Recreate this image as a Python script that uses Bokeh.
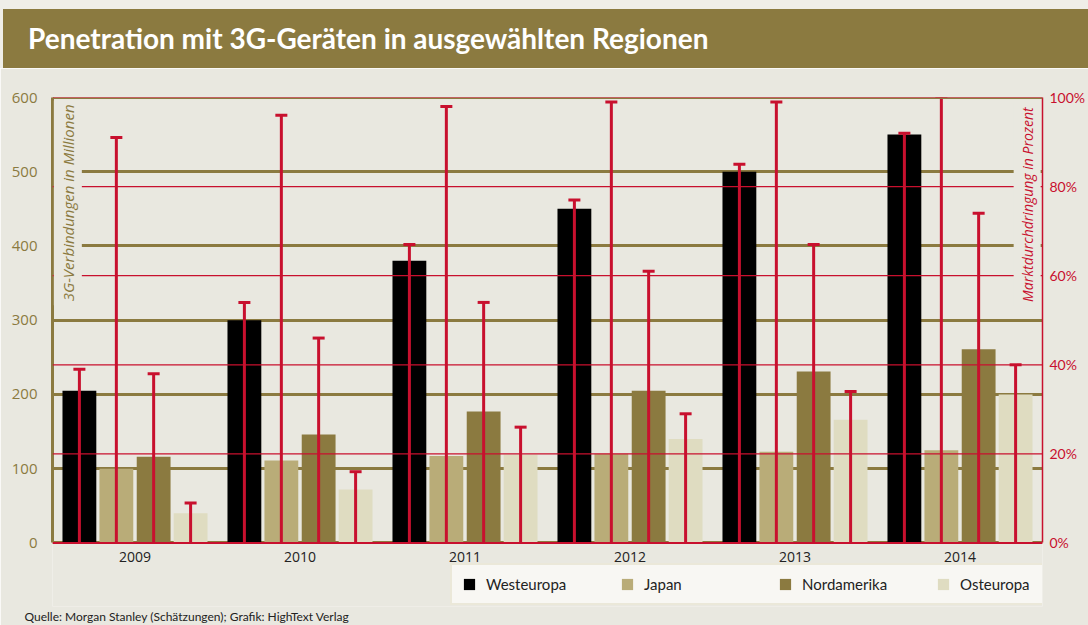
from bokeh.plotting import figure
from bokeh.models import (FactorRange, Range1d, LinearAxis, FixedTicker, Span, Label,
                          Legend, LegendItem, ColumnDataSource, Div, Title)
from bokeh.transform import dodge
from bokeh.layouts import column
from bokeh.core.properties import value
from bokeh.embed import file_html
from bokeh.resources import INLINE

# ---------------- data ----------------
years = ["2009", "2010", "2011", "2012", "2013", "2014"]
series = ["Westeuropa", "Japan", "Nordamerika", "Osteuropa"]
# 3G connections in millions (left axis)
westeuropa = [205, 300, 380, 450, 500, 550]
japan = [100, 111, 117, 120, 123, 125]
nordamerika = [116, 146, 177, 205, 231, 261]
osteuropa = [40, 72, 119, 140, 166, 200]
# market penetration in percent (right axis)
westeuropa_pct = [39, 54, 67, 77, 85, 92]
japan_pct = [91, 96, 98, 99, 99, 100]
nordamerika_pct = [38, 46, 54, 61, 67, 74]
osteuropa_pct = [9, 16, 26, 29, 34, 40]
left_ticks = [0, 100, 200, 300, 400, 500, 600]
right_ticks = [0, 20, 40, 60, 80, 100]
right_tick_labels = ["0%", "20%", "40%", "60%", "80%", "100%"]

title_text = "Penetration mit 3G-Geräten in ausgewählten Regionen"
source_text = "Quelle: Morgan Stanley (Schätzungen); Grafik: HighText Verlag"
left_label = "3G-Verbindungen in Millionen"
right_label = "Marktdurchdringung in Prozent"

# ---------------- styles ----------------
OLIVE = "#8b7a40"
JAPAN_C = "#b9ac78"
OST_C = "#dfdcc1"
RED = "#c8102e"
BG = "#e9e8e0"
COND = "Lato"
REG = "Open Sans"

colors = ["#000000", JAPAN_C, OLIVE, OST_C]
offsets = [-0.337, -0.113, 0.113, 0.337]
pcols = ["wp", "jp", "np_", "op"]
vcols = ["w", "j", "n", "o"]

# ---------------- title bar ----------------
t = Div(text=(f'<div style="width:1088px;height:68px;box-sizing:border-box;background:#efeee8;'
              f'padding-top:9px;padding-left:3px;">'
              f'<div style="height:59px;background:{OLIVE};color:#ffffff;font-family:Lato;'
              f'font-weight:bold;font-size:28px;line-height:58px;padding-left:25px;'
              f'white-space:nowrap;">{title_text}</div></div>'),
        width=1088, height=68, margin=0)

# ---------------- main chart ----------------
# frame: x 52..1048, y 97..606 (page px); value 0 sits at ~542.5
p = figure(width=1088, height=557, x_range=FactorRange(*years), y_range=Range1d(-85.6, 600),
           toolbar_location=None, output_backend="svg", x_axis_location=None,
           min_border_left=52, min_border_right=40, min_border_top=29, min_border_bottom=19,
           background_fill_color=BG, border_fill_color=BG, outline_line_color=None)
p.extra_y_ranges = {"pct": Range1d(-14.26, 100)}

# left axis
p.yaxis.ticker = FixedTicker(ticks=left_ticks)
p.yaxis.bounds = (0, 600)
p.yaxis.axis_line_color = OLIVE
p.yaxis.axis_line_width = 3
p.yaxis.major_tick_line_color = None
p.yaxis.minor_tick_line_color = None
p.yaxis.major_tick_out = 0
p.yaxis.major_tick_in = 0
p.yaxis.minor_tick_out = 0
p.yaxis.major_label_text_color = OLIVE
p.yaxis.major_label_text_font = REG
p.yaxis.major_label_text_font_size = "15px"
p.yaxis.major_label_standoff = 15

# right axis
ra = LinearAxis(y_range_name="pct", ticker=FixedTicker(ticks=right_ticks), bounds=(0, 100),
                major_label_overrides={k: v for k, v in zip(right_ticks, right_tick_labels)})
ra.axis_line_color = RED
ra.axis_line_width = 1.5
ra.major_tick_line_color = None
ra.minor_tick_line_color = None
ra.major_tick_out = 0
ra.major_tick_in = 0
ra.minor_tick_out = 0
ra.major_label_text_color = RED
ra.major_label_text_font = COND
ra.major_label_text_font_size = "14px"
ra.major_label_standoff = 7
p.add_layout(ra, "right")

# grid
p.xgrid.grid_line_color = None
p.ygrid.ticker = FixedTicker(ticks=left_ticks[:-1])
p.ygrid.grid_line_color = OLIVE
p.ygrid.grid_line_width = 3

src = ColumnDataSource(dict(year=years,
                            w=westeuropa, j=japan, n=nordamerika, o=osteuropa,
                            wp=westeuropa_pct, jp=japan_pct, np_=nordamerika_pct, op=osteuropa_pct,
                            zero=[0] * len(years)))

bar_renderers = []
for col, c, off in zip(vcols, colors, offsets):
    r = p.vbar(x=dodge("year", off, range=p.x_range), top=col, bottom=0, width=0.205,
               source=src, fill_color=c, line_color=None)
    bar_renderers.append(r)

for pc, off in zip(pcols, offsets):
    xd = dodge("year", off, range=p.x_range)
    p.segment(x0=xd, y0="zero", x1=xd, y1=pc, source=src, y_range_name="pct",
              line_color=RED, line_width=3)
    p.scatter(x=xd, y=pc, source=src, y_range_name="pct", marker="dash", size=12,
              line_color=RED, line_width=3)

# category labels under the baseline
p.text(x="year", y=0, text="year", source=src, y_offset=9, text_align="center",
       text_baseline="top", text_font=value(REG), text_font_size=value("14px"),
       text_color="#222222")

# top border lines
p.add_layout(Span(location=600, dimension="width", line_color=OLIVE, line_width=3))
p.add_layout(Span(location=100, dimension="width", y_range_name="pct",
                  line_color=RED, line_width=1.2))
# red percent gridlines (drawn above bars)
for v in right_ticks[1:-1]:
    p.add_layout(Span(location=v, dimension="width", y_range_name="pct",
                      line_color=RED, line_width=1.2))
# baseline
p.add_layout(Span(location=0, dimension="width", line_color=RED, line_width=2))

# in-plot axis titles
p.add_layout(Label(x=0.093, y=596, text=left_label, angle=90, angle_units="deg",
                   text_align="right", text_baseline="middle",
                   text_font=REG, text_font_style="italic", text_font_size="15px",
                   text_color=OLIVE, background_fill_color=BG, padding=4))
p.add_layout(Label(x=5.907, y=98.7, y_range_name="pct", text=right_label, angle=90,
                   angle_units="deg", text_align="right", text_baseline="middle",
                   text_font=REG, text_font_style="italic", text_font_size="14px",
                   text_color=RED, background_fill_color=BG, padding=4))

# legend (inside the frame, screen px relative to frame bottom-left)
legend = Legend(items=[LegendItem(label=s, renderers=[r]) for s, r in zip(series, bar_renderers)],
                orientation="horizontal", location=(398, 1),
                glyph_width=14, glyph_height=14, label_standoff=10, label_width=112,
                label_height=18, spacing=22, padding=10, margin=0,
                background_fill_color="#f8f7f3", background_fill_alpha=1,
                border_line_color="#ddd9bf", border_line_width=2,
                label_text_font=COND, label_text_font_size="15px",
                label_text_color="#222222")
p.add_layout(legend)

# source note below the frame
p.add_layout(Title(text=source_text, align="left", offset=-28, standoff=0,
                   text_font=COND, text_font_size="12px", text_font_style="normal",
                   text_color="#222222"), "below")

layout = column(t, p, spacing=0)
open("out.html", "w").write(file_html(layout, INLINE))
